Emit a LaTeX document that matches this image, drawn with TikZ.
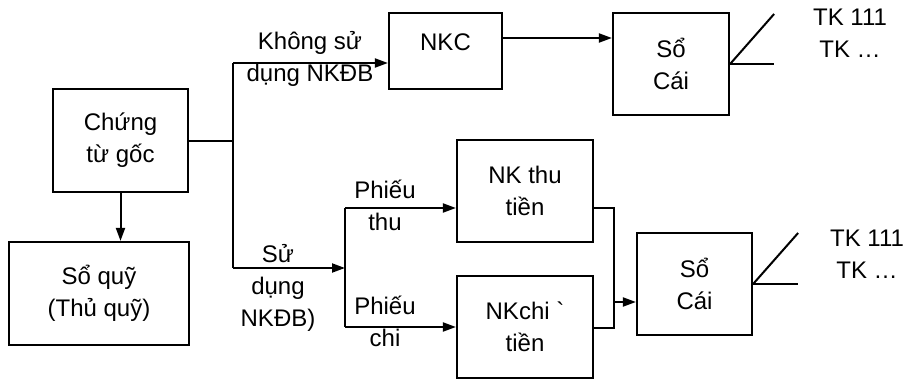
\documentclass[tikz,border=0pt]{standalone}
\usepackage{fontspec}
\usetikzlibrary{arrows.meta,positioning}
\newfontfamily\diagfont{Liberation Sans}
\tikzset{
  box/.style={draw,line width=2.2pt,inner sep=0pt,align=center,
              font=\diagfont\fontsize{24}{32}\selectfont},
  note/.style={inner sep=0pt,align=center,
               font=\diagfont\fontsize{24}{32}\selectfont},
  link/.style={line width=2pt},
  arrow/.style={-{Triangle[length=13pt,width=9pt]},line width=2pt}
}
\begin{document}
\begin{tikzpicture}[x=1pt,y=-1pt]
\useasboundingbox (0,0) rectangle (913,379);
% boxes
\node[box,minimum width=135pt,minimum height=103pt] (goc) at (120.5,140.5) {Chứng\\từ gốc};
\node[box,minimum width=180pt,minimum height=103pt] (quy) at (99,293.5) {Sổ quỹ\\(Thủ quỹ)};
\node[box,minimum width=113pt,minimum height=76pt,text height=10pt,text depth=10pt] (nkc) at (445.5,51) {NKC};
\node[box,minimum width=116pt,minimum height=102pt] (cai1) at (671,64) {Sổ\\Cái};
\node[box,minimum width=136pt,minimum height=102pt] (thu) at (525,191) {NK thu\\tiền};
\node[box,minimum width=136pt,minimum height=102pt] (chi) at (525,327) {NKchi `\\tiền};
\node[box,minimum width=115pt,minimum height=102pt] (cai2) at (694.5,284) {Sổ\\Cái};
% labels
\node[note] (lkhong) at (310,59) {Không sử\\dụng NKĐB};
\node[note] (lsu) at (278,288) {Sử\\dụng\\NKĐB)};
\node[note] (lthu) at (385,205) {Phiếu\\thu};
\node[note] (lchi) at (385,321) {Phiếu\\chi};
\node[note] (tk1) at (850,33) {TK 111\\TK …};
\node[note] (tk2) at (867,254) {TK 111\\TK …};
% branch points
\coordinate (split) at (233,141);
\coordinate (kbr) at (233,63);
\coordinate (sbr) at (233,268);
\coordinate (pbr) at (345,268);
\coordinate (pthu) at (345,208);
\coordinate (pchi) at (345,327);
\coordinate (r1) at (502,38);
\coordinate (mtop) at (614,208);
\coordinate (mbot) at (614,328);
\coordinate (mmid) at (614,302);
% connectors
\draw[arrow] (goc.south) -- (goc.south |- quy.north);
\draw[link] (goc.east |- split) -- (split);
\draw[link] (kbr) -- (sbr);
\draw[arrow] (kbr) -- (kbr -| nkc.west);
\draw[arrow] (sbr) -- (pbr);
\draw[link] (pthu) -- (pchi);
\draw[arrow] (pthu) -- (pthu -| thu.west);
\draw[arrow] (pchi) -- (pchi -| chi.west);
\draw[arrow] (r1 -| nkc.east) -- (r1 -| cai1.west);
\draw[link] (mtop -| thu.east) -- (mtop) -- (mbot) -- (mbot -| chi.east);
\draw[arrow] (mmid) -- (mmid -| cai2.west);
% ledger marks
\draw[link] (cai1.east) -- ++(44,-50);
\draw[link] (cai1.east) -- ++(44,0);
\draw[link] (cai2.east) -- ++(45,-51);
\draw[link] (cai2.east) -- ++(45,0);
\end{tikzpicture}
\end{document}
